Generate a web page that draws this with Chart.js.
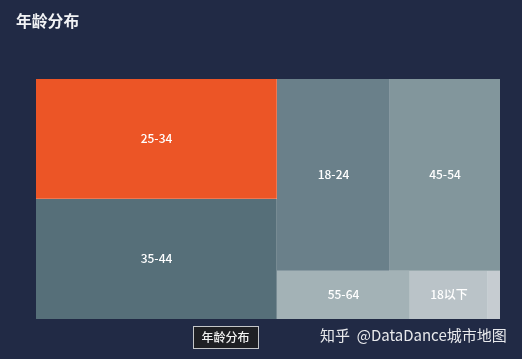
<!DOCTYPE html>
<html>
<head>
<meta charset="utf-8">
<script src="https://cdn.jsdelivr.net/npm/chart.js@4"></script>
<style>
html,body{margin:0;padding:0;background:#212a45;}
#w{width:522px;height:359px;position:relative;}
</style>
</head>
<body>
<div id="w"><canvas id="c" width="522" height="359"></canvas></div>
<script>
const titleText = '年龄分布';
const categories = ['25-34', '35-44', '18-24', '45-54', '55-64', '18以下', ''];
const shares = [26.0, 26.0, 19.6, 19.0, 5.75, 3.4, 0.5];
const colors = ['#ec5526', '#566f79', '#6a808a', '#82969c', '#a3b2b6', '#bac3c8', '#c6ccd1'];
const breadcrumbText = '年龄分布';
const creditText = '知乎  @DataDance城市地图';
const FONT = '"Noto Sans CJK SC","Noto Sans",sans-serif';
const GOLDEN = (1 + Math.sqrt(5)) / 2;

function worst(row, side) {
  const s = row.reduce((a, b) => a + b.a, 0);
  const as = row.map(r => r.a), sq = s * s, f = side * side * GOLDEN;
  return Math.max(f * Math.max(...as) / sq, sq / (f * Math.min(...as)));
}
function squarify(vals, W, H) {
  const total = vals.reduce((a, b) => a + b, 0);
  const items = vals.map((v, i) => ({ i, a: v / total * W * H }));
  const out = [];
  let x = 0, y = 0, w = W, h = H, k = 0;
  while (k < items.length) {
    const side = Math.min(w, h);
    let row = [items[k++]];
    while (k < items.length && worst(row.concat(items[k]), side) <= worst(row, side)) row.push(items[k++]);
    const t = row.reduce((a, b) => a + b.a, 0) / side;
    let p = 0;
    row.forEach(r => {
      const l = r.a / t;
      out[r.i] = w >= h ? { x0: x, x1: x + t, y0: y + p, y1: y + p + l } : { x0: x + p, x1: x + p + l, y0: y, y1: y + t };
      p += l;
    });
    if (w >= h) { x += t; w -= t; } else { y += t; h -= t; }
  }
  return out;
}

class TreemapController extends Chart.DatasetController {
  update(mode) {
    const meta = this._cachedMeta;
    this.updateElements(meta.data, 0, meta.data.length, mode);
  }
  updateElements(els, start, count, mode) {
    const { xScale: xs, yScale: ys } = this._cachedMeta;
    const W = xs.width, H = ys.height;
    const rects = squarify(this.getDataset().data, W, H);
    for (let i = start; i < start + count; i++) {
      const r = rects[i];
      const l = Math.round(xs.getPixelForValue(r.x0 / W)), rr = Math.round(xs.getPixelForValue(r.x1 / W));
      const t = Math.round(ys.getPixelForValue(r.y0 / H)), b = Math.round(ys.getPixelForValue(r.y1 / H));
      this.updateElement(els[i], i, {
        x: (l + rr) / 2, y: t, base: b, width: rr - l, height: b - t,
        horizontal: false, borderSkipped: {}, enableBorderRadius: false, inflateAmount: 0,
        options: this.resolveDataElementOptions(i, mode)
      }, mode);
    }
  }
  draw() {
    const ctx = this.chart.ctx, { xScale: xs, yScale: ys, data } = this._cachedMeta;
    data.forEach(e => e.draw(ctx));
    // thin light separators on inner edges
    ctx.save();
    ctx.strokeStyle = 'rgba(255,255,255,0.2)';
    ctx.lineWidth = 1;
    data.forEach(e => {
      const right = e.x + e.width / 2;
      ctx.beginPath();
      if (right < xs.right - 1) { ctx.moveTo(right - 0.5, e.y); ctx.lineTo(right - 0.5, e.base); }
      if (e.base < ys.bottom - 1) { ctx.moveTo(right - e.width, e.base - 0.5); ctx.lineTo(right, e.base - 0.5); }
      ctx.stroke();
    });
    ctx.restore();
  }
}
TreemapController.id = 'treemap';
TreemapController.defaults = { dataElementType: 'bar', parsing: false };
Chart.register(TreemapController);

const overlay = {
  id: 'overlay',
  afterDatasetsDraw(chart) {
    const ctx = chart.ctx, els = chart.getDatasetMeta(0).data;
    ctx.save();
    ctx.textAlign = 'center';
    ctx.textBaseline = 'middle';
    ctx.font = '500 12px ' + FONT;
    ctx.fillStyle = '#ffffff';
    els.forEach((e, i) => {
      if (categories[i]) ctx.fillText(categories[i], e.x, (e.y + e.base) / 2 - 1);
    });
    // breadcrumb
    ctx.fillStyle = '#1f2024';
    ctx.fillRect(193.5, 326.5, 65, 22);
    ctx.strokeStyle = '#c4c6c9';
    ctx.lineWidth = 1;
    ctx.strokeRect(193.5, 326.5, 65, 22);
    ctx.fillStyle = '#f2f2f2';
    ctx.font = '500 12px ' + FONT;
    ctx.fillText(breadcrumbText, 225.5, 337);
    // credit
    ctx.textAlign = 'left';
    ctx.font = '400 15px ' + FONT;
    ctx.fillStyle = '#e8e9ec';
    ctx.fillText(creditText, 320, 335);
    ctx.restore();
  }
};

new Chart(document.getElementById('c'), {
  type: 'treemap',
  data: {
    labels: categories,
    datasets: [{
      data: shares,
      backgroundColor: colors,
      borderWidth: 0,
      borderSkipped: false
    }]
  },
  plugins: [overlay],
  options: {
    responsive: false,
    animation: false,
    events: [],
    layout: { padding: { left: 16, right: 22, top: 0, bottom: 40 } },
    plugins: {
      legend: { display: false },
      tooltip: { enabled: false },
      title: {
        display: true, text: titleText, align: 'start', color: '#f2f3f5',
        font: { family: FONT, size: 15.8, weight: '700', lineHeight: 1.2 },
        padding: { top: 12, bottom: 48 }
      }
    },
    scales: {
      x: { type: 'linear', min: 0, max: 1, display: false },
      y: {
        type: 'linear', min: 0, max: 1, reverse: true,
        grid: { display: false }, border: { display: false }, ticks: { display: false },
        afterFit(s) { s.width = 20; }
      }
    }
  }
});
</script>
</body>
</html>
